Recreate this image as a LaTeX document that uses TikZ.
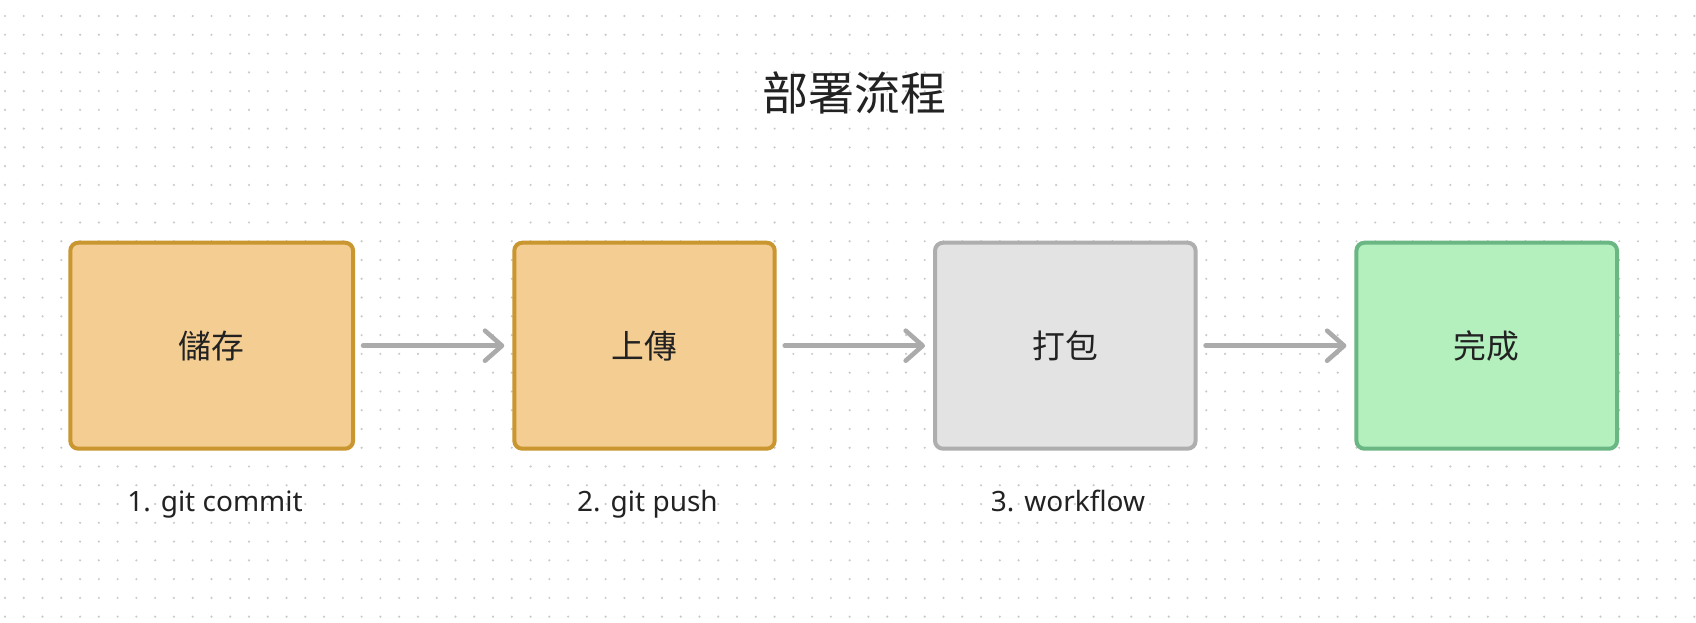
\documentclass[tikz,border=0pt]{standalone}
\usepackage{fontspec}
\setmainfont{Noto Sans CJK TC}
\newfontfamily\latinfont{Noto Sans}
\usetikzlibrary{arrows.meta}
\definecolor{dotc}{HTML}{C9C9C9}
\definecolor{orfill}{HTML}{F4CD92}
\definecolor{ordraw}{HTML}{C9962F}
\definecolor{grfill}{HTML}{E3E3E3}
\definecolor{grdraw}{HTML}{AEAEAE}
\definecolor{gnfill}{HTML}{B3F0BE}
\definecolor{gndraw}{HTML}{6BB784}
\definecolor{arrc}{HTML}{ABABAB}
\definecolor{txt}{HTML}{222222}
\tikzset{
  box/.style={draw, line width=2pt, rounded corners=4pt, minimum height=103pt, inner sep=0pt,
    text=txt, font=\fontsize{16.4pt}{18pt}\selectfont},
  orbox/.style={box, fill=orfill, draw=ordraw},
  grbox/.style={box, fill=grfill, draw=grdraw},
  gnbox/.style={box, fill=gnfill, draw=gndraw},
  caption/.style={anchor=base, text=txt, inner sep=0pt, font=\latinfont\fontsize{14pt}{16pt}\selectfont},
  conn/.style={draw=arrc, line width=2.3pt, line cap=round, shorten <=4pt, shorten >=4pt,
    -{Straight Barb[length=8.5pt, width=15pt, line cap=round, line join=round]}},
}
\begin{document}
\begin{tikzpicture}[x=0.5pt, y=-0.5pt]
\useasboundingbox (0,0) rectangle (1696,622);
\fill[white] (0,0) rectangle (1696,622);
\foreach \i in {0,...,90}{
  \foreach \j in {0,...,32}{
    \fill[dotc] ({5+18.77*\i},{16+18.77*\j}) circle (0.6pt);
  }
}
\node[text=txt, font=\fontsize{23pt}{26pt}\selectfont] (title) at (854,93) {部署流程};
\node[orbox, minimum width=141.4pt] (b1) at (211.7,345.7) {儲存};
\node[orbox, minimum width=130.2pt] (b2) at (644.5,345.7) {上傳};
\node[grbox, minimum width=130.3pt] (b3) at (1065.3,345.7) {打包};
\node[gnbox, minimum width=130.3pt] (b4) at (1486.7,345.7) {完成};
\draw[conn] (b1) -- (b2);
\draw[conn] (b2) -- (b3);
\draw[conn] (b3) -- (b4);
\node[caption] (c1) at (215,511) {1.\hspace{5pt}git commit};
\node[caption] (c2) at (647.5,511) {2.\hspace{5pt}git push};
\node[caption] (c3) at (1068,511) {3.\hspace{5pt}workflow};
\end{tikzpicture}
\end{document}
